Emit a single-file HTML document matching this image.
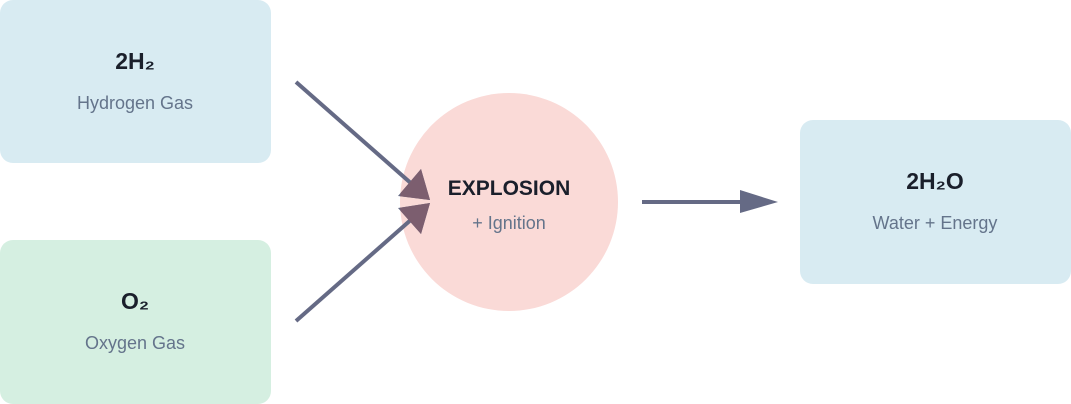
<!DOCTYPE html>
<html><head><meta charset="utf-8"><style>
html,body{margin:0;padding:0;background:#fff;}
body{width:1071px;height:404px;position:relative;overflow:hidden;font-family:"Liberation Sans",sans-serif;}
</style></head><body>
<svg width="1071" height="404" viewBox="0 0 1071 404" xmlns="http://www.w3.org/2000/svg" style="position:absolute;left:0;top:0">
<defs>
<clipPath id="cc"><circle cx="509" cy="202" r="109"/></clipPath>
<g id="heads">
<polygon points="430,200 398,196 421,169"/>
<polygon points="430,203 421,234 398,208"/>
</g>
</defs>
<rect x="0" y="0" width="271" height="163" rx="13" fill="#d8ebf2"/>
<rect x="0" y="240" width="271" height="164" rx="13" fill="#d5efe1"/>
<rect x="800" y="120" width="271" height="164" rx="13" fill="#d8ebf2"/>
<circle cx="509" cy="202" r="109" fill="#fadad7"/>
<line x1="296" y1="82" x2="413" y2="185" stroke="#656a85" stroke-width="4"/>
<line x1="296" y1="321" x2="413" y2="218" stroke="#656a85" stroke-width="4"/>
<use href="#heads" fill="#656a85"/>
<g clip-path="url(#cc)"><use href="#heads" fill="#7c5e6f"/></g>
<line x1="642" y1="202" x2="742" y2="202" stroke="#656a85" stroke-width="4"/>
<polygon points="740,190 778,202 740,213" fill="#656a85"/>
<g font-family="Liberation Sans, sans-serif" text-anchor="middle">
<text x="135" y="69" font-size="23" font-weight="bold" fill="#1a1f2b">2H₂</text>
<text x="135" y="109" font-size="18" fill="#64748b">Hydrogen Gas</text>
<text x="135" y="309" font-size="23" font-weight="bold" fill="#1a1f2b">O₂</text>
<text x="135" y="349" font-size="18" fill="#64748b">Oxygen Gas</text>
<text x="509" y="195" font-size="21" font-weight="bold" fill="#1a1f2b">EXPLOSION</text>
<text x="509" y="229" font-size="18" fill="#64748b">+ Ignition</text>
<text x="935" y="189" font-size="23" font-weight="bold" fill="#1a1f2b">2H₂O</text>
<text x="935" y="229" font-size="18" fill="#64748b">Water + Energy</text>
</g>
</svg>
</body></html>
